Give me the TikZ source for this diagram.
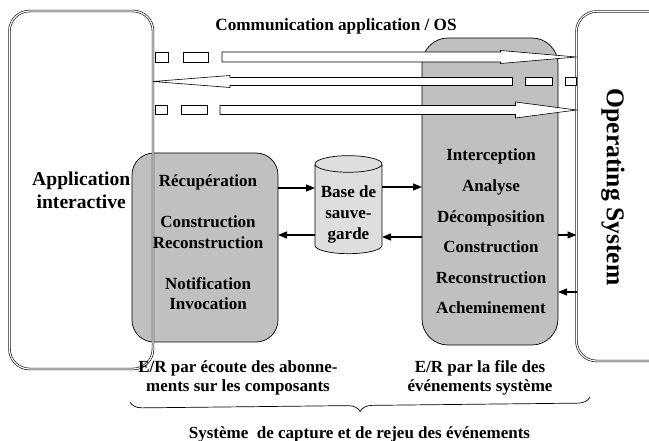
\documentclass[tikz,border=0pt]{standalone}
\usepackage{fontspec}
\setmainfont{Liberation Serif}
\usepackage{tikz}
\usetikzlibrary{
    shapes.geometric, % For cylinder
    arrows.meta,      % For modern arrowheads like -{Triangle}
    calc,             % For offsets from node anchors
    decorations.pathreplacing % For the brace
}
\definecolor{boxgray}{RGB}{192,192,192}
\definecolor{basegray}{RGB}{222,222,222}
\tikzset{
  % Style for the two outer double-line boxes
  outer/.style={
    rectangle, draw, double, double distance=1.2pt, line width=0.6pt,
    rounded corners=20pt, inner sep=0pt, outer sep=0pt, align=center
  },
  % Style for the gray processing boxes
  proc/.style={
    rectangle, draw, line width=0.7pt, fill=boxgray,
    rounded corners=22pt, inner sep=0pt, outer sep=0pt
  },
  % Style for the backup cylinder
  db/.style={
    cylinder, shape border rotate=90, aspect=0.3, draw, line width=0.7pt,
    fill=basegray, inner sep=0pt, outer sep=0pt, align=center
  },
  % Style for the hollow double arrows
  hollow/.style={draw, fill=white, line width=0.6pt},
  % Style for arrows
  arrow/.style={-{Triangle[length=9pt,width=7pt]}, line width=1.3pt},
  % Style for plain text
  txt/.style={align=center, inner sep=0pt},
  % Font sizes
  small/.style={font=\bfseries\fontsize{17}{20.5}\selectfont}
}

\begin{document}
\begin{tikzpicture}[x=1pt, y=-1pt, font=\bfseries]
    \useasboundingbox (0,0) rectangle (649,441);
    \clip (0,0) rectangle (649,441);

    \node (capt) [proc, minimum width=146pt, minimum height=189pt] at (205,247.5) {};
    \node (evq) [proc, minimum width=136pt, minimum height=307pt, rounded corners=26pt] at (490,191.5) {};
    \node (app) [outer, minimum width=143.5pt, minimum height=358pt,
        font=\bfseries\fontsize{19.6}{23}\selectfont] at (81.25,190) {Application\\interactive};
    \node (os) [outer, minimum width=100pt, minimum height=349.5pt] at (626.5,186.25) {};
    \node (ostxt) [txt, rotate=-90, font=\bfseries\fontsize{25.6}{30}\selectfont] at (613,187) {Operating System};
    \node (base) [db, font=\bfseries\fontsize{17}{21}\selectfont, minimum width=67pt, minimum height=98pt]
        at (348.5,209) {\rule{0pt}{23pt}Base de\\sauve-\\garde};

    \node (capttxt) [txt, small] at (208,242.5) {R\'ecup\'eration\\[20.5pt]Construction\\Reconstruction\\[20.5pt]Notification\\Invocation};
    \node (evqtxt) [txt, font=\bfseries\fontsize{17}{30.6}\selectfont] at (491,231.5)
        {Interception\\Analyse\\D\'ecomposition\\Construction\\Reconstruction\\Acheminement};

    \node (title) [txt, font=\bfseries\fontsize{17.2}{20}\selectfont] at (336,26) {Communication application / OS};

    % application -> OS
    \draw[hollow] ($(app.east |- 0,52)+(2,0)$) rectangle ++(13,10);
    \draw[hollow] ($(app.east |- 0,52)+(30,0)$) rectangle ++(25,10);
    \draw[hollow] ($(app.east |- 0,52)+(69,0)$) -- ($(os.west |- 0,52)+(-76,0)$) -- ++(0,-1.5) -- (os.west |- 0,57)
        -- ++(-76,6.5) -- ++(0,-1.5) -- ($(app.east |- 0,62)+(69,0)$) -- cycle;
    % OS -> application
    \draw[hollow] (app.east |- 0,81.5) -- ++(77,-6) -- ++(0,2) -- ($(os.west |- 0,77.5)+(-64,0)$) -- ++(0,8)
        -- ($(app.east |- 0,85.5)+(77,0)$) -- ++(0,2) -- cycle;
    \draw[hollow] ($(os.west |- 0,77.5)+(-51,0)$) rectangle ++(27,8);
    \draw[hollow] ($(os.west |- 0,77.5)+(-11,0)$) rectangle ++(11,8);
    % application -> OS
    \draw[hollow] ($(app.east |- 0,105.5)+(2,0)$) rectangle ++(12,9);
    \draw[hollow] ($(app.east |- 0,105.5)+(28,0)$) rectangle ++(26,9);
    \draw[hollow] ($(app.east |- 0,105.5)+(67,0)$) -- ($(os.west |- 0,105.5)+(-61,0)$) -- ++(0,-3.5) -- (os.west |- 0,110)
        -- ++(-61,8) -- ++(0,-3.5) -- ($(app.east |- 0,114.5)+(67,0)$) -- cycle;

    \draw[arrow] (capt.east |- 0,188) -- (base.west |- 0,188);
    \draw[arrow] (base.west |- 0,235) -- (capt.east |- 0,235);
    \draw[arrow] (base.east |- 0,187) -- (evq.west |- 0,187);
    \draw[arrow] (evq.west |- 0,237) -- (base.east |- 0,237);
    \draw[arrow] (evq.east |- 0,235) -- (os.west |- 0,235);
    \draw[arrow] (os.west |- 0,292) -- (evq.east |- 0,292);

    \node (lblcapt) [txt, font=\bfseries\fontsize{17}{19}\selectfont] at (238,378) {E/R par \'ecoute des abonne-\\ments sur les composants};
    \node (lblevq) [txt, font=\bfseries\fontsize{17}{19}\selectfont] at (480,378) {E/R par la file des\\\'ev\'enements syst\`eme};

    \coordinate (brl) at (130,402);
    \coordinate (brr) at (590,397);
    \draw[line width=0.7pt, decorate, decoration={brace, mirror, amplitude=12pt}] (brl) -- (brr);
    \node (sysname) [txt, font=\bfseries\fontsize{17}{20}\selectfont] at (359.5,434) {Syst\`eme\ \ de capture et de rejeu des \'ev\'enements};

\end{tikzpicture}
\end{document}
